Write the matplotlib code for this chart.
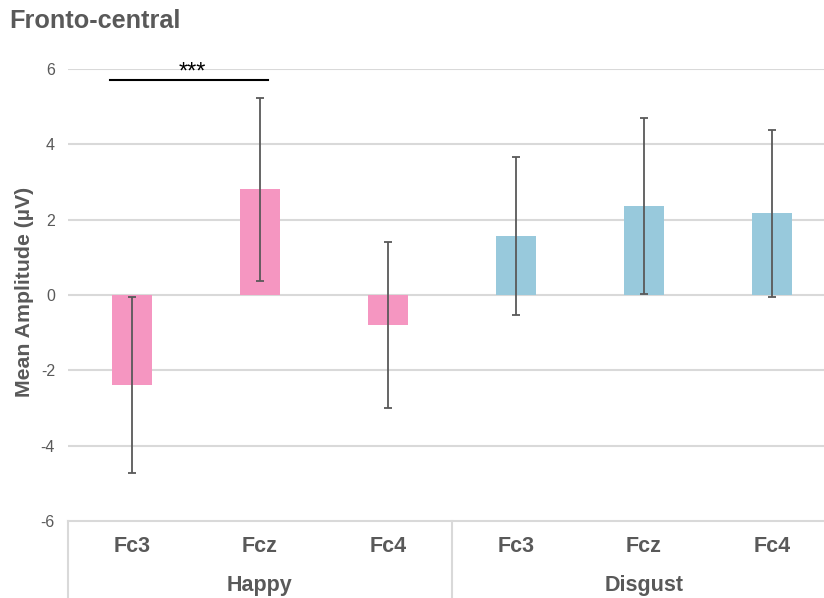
import matplotlib
matplotlib.use("Agg")
import matplotlib.pyplot as plt
import numpy as np

groups = ["Happy", "Disgust"]
electrodes = ["Fc3", "Fcz", "Fc4"]
happy_means = [-2.39, 2.81, -0.80]
happy_errs = [2.33, 2.43, 2.21]
disgust_means = [1.56, 2.36, 2.17]
disgust_errs = [2.10, 2.33, 2.22]
yticks = [-6, -4, -2, 0, 2, 4, 6]
title = "Fronto-central"
ylabel = "Mean Amplitude (µV)"
sig_label = "***"

pink = "#F596C1"
blue = "#98C9DC"
grey_txt = "#595959"
grid_c = "#D9D9D9"

plt.rcParams['font.family'] = ['Liberation Sans', 'DejaVu Sans']

fig = plt.figure(figsize=(8.24, 5.98), dpi=100)
W, H = 824, 598
left_px, right_px = 68, 836
top_px, bot_px = 69, 521
ax = fig.add_axes([left_px / W, 1 - bot_px / H, (right_px - left_px) / W, (bot_px - top_px) / H])

means = happy_means + disgust_means
errs = happy_errs + disgust_errs
colors = [pink] * 3 + [blue] * 3
x = np.arange(len(means))

ax.set_xlim(-0.5, 5.5)
ax.set_ylim(-6, 6)
for yt in yticks:
    if yt != -6:
        ax.axhline(yt, color=grid_c, lw=1.5, zorder=0)

ax.bar(x, means, width=0.31, color=colors, zorder=2)
ax.errorbar(x, means, yerr=errs, fmt='none', ecolor=grey_txt, elinewidth=1.3,
            capsize=3, capthick=1.3, zorder=3)

for s in ['top', 'right', 'left']:
    ax.spines[s].set_visible(False)
ax.spines['bottom'].set_color(grid_c)
ax.spines['bottom'].set_linewidth(1.5)

ax.set_yticks(yticks)
ax.set_yticklabels([str(v) for v in yticks], fontsize=11.5, color=grey_txt)
ax.tick_params(axis='y', length=0, pad=9.4)
ax.set_xticks([])

# category labels
trans = ax.get_xaxis_transform()
for i, lab in enumerate(electrodes * 2):
    ax.text(i, -(547 - bot_px) / (bot_px - top_px), lab, transform=trans, ha='center', va='center',
            fontsize=15.5, fontweight='bold', color=grey_txt, clip_on=False)
for g, lab in enumerate(groups):
    ax.text(1 + 3 * g, -(585 - bot_px) / (bot_px - top_px), lab, transform=trans, ha='center', va='center',
            fontsize=15.5, fontweight='bold', color=grey_txt, clip_on=False)
for xb in [-0.5, 2.5]:
    ax.plot([xb, xb], [0, -(600 - bot_px) / (bot_px - top_px)], transform=trans, color=grid_c,
            lw=1.5, clip_on=False)

# significance
ax.plot([-0.17, 1.06], [5.72, 5.72], color='black', lw=1.5, clip_on=False, zorder=4)
ax.text(0.47, 5.74, sig_label, ha='center', va='baseline', fontsize=17, color='black', zorder=5)

fig.text(25 / W, 1 - 292 / H, ylabel, rotation=90, ha='center', va='center',
         fontsize=15.3, fontweight='bold', color=grey_txt)
fig.text(9 / W, 1 - 21 / H, title, ha='left', va='center', fontsize=18.2,
         fontweight='bold', color=grey_txt)

fig.savefig("out.png", dpi=100)
